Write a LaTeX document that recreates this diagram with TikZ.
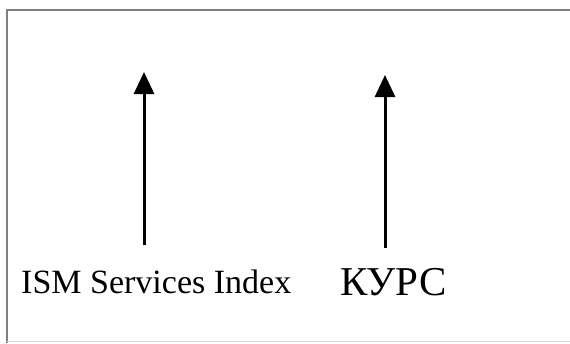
\documentclass[tikz,border=0pt]{standalone}
\usepackage{fontspec}
\setmainfont{Liberation Serif}
\usetikzlibrary{arrows.meta}

\begin{document}
\begin{tikzpicture}[x=1pt, y=-1pt,
  every node/.style = {inner sep=0pt, anchor=base west},
  uparrow/.style = {line width=3pt, -{Triangle[width=20pt, length=22pt]}}]
  \useasboundingbox (0,0) rectangle (570,343);
  % frame
  \draw[line width=1.5pt, black!50] (7,343) -- (7,10) -- (570,10);
  \draw[line width=1pt, black!15] (7,341) -- (570,341);
  % labels
  \node (ism) at (21,293) {\fontsize{34}{40}\selectfont ISM Services Index};
  \node (kurs) at (340,295) {\fontsize{41}{48}\selectfont КУРС};
  % arrows
  \coordinate (ismbase) at (144,245);
  \coordinate (ismtip) at (144,72);
  \coordinate (kursbase) at (385,248);
  \coordinate (kurstip) at (385,75);
  \draw[uparrow] (ismbase) -- (ismtip);
  \draw[uparrow] (kursbase) -- (kurstip);
\end{tikzpicture}
\end{document}
